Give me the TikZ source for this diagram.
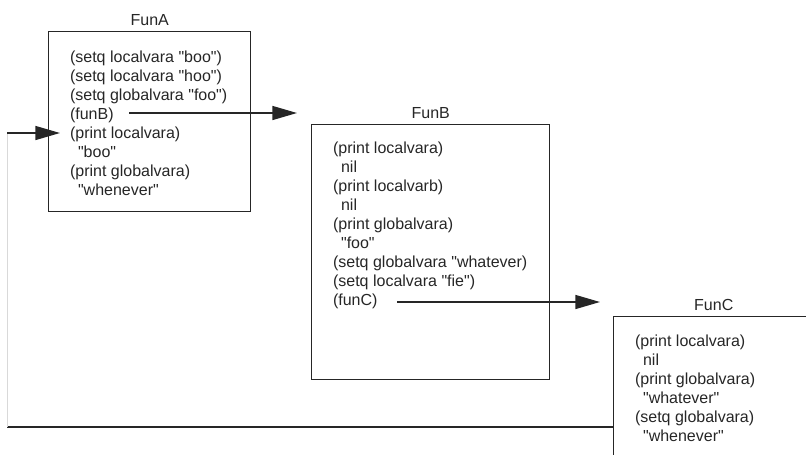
\documentclass[tikz,border=0pt]{standalone}
\usepackage{fontspec}
\setmainfont{Liberation Sans}[Ligatures=TeXOff]
\usetikzlibrary{arrows.meta,positioning}

\begin{document}
\begin{tikzpicture}[x=0.75pt,y=-0.75pt,black!85,line width=1.1pt,
  font=\fontsize{12}{14.25}\selectfont,
  fun/.style={draw,rectangle,anchor=north west,inner sep=0pt,label distance=6.3pt},
  code/.style={align=left,inner sep=0pt},
  call/.style={-{Triangle[length=18.5pt,width=10.5pt]}}]
 \clip (0,0) rectangle (806,454);
 \node[fun,minimum width=151.5pt,minimum height=135pt,label=above:FunA] (funa) at (48,31) {};
 \node[fun,minimum width=178.5pt,minimum height=191.25pt,label=above:FunB] (funb) at (311,124) {};
 \node[fun,minimum width=150pt,minimum height=150pt,label=above:FunC] (func) at (613,316) {};
 \node[code,below right=14.6pt and 16pt of funa.north west] (codea) {(setq localvara "boo")\\
  (setq localvara "hoo")\\
  (setq globalvara "foo")\\
  (funB)\\
  (print localvara)\\
  \hspace{6pt}"boo"\\
  (print globalvara)\\
  \hspace{6pt}"whenever"};
 \node[code,below right=13.1pt and 16pt of funb.north west] (codeb) {(print localvara)\\
  \hspace{6pt}nil\\
  (print localvarb)\\
  \hspace{6pt}nil\\
  (print globalvara)\\
  \hspace{6pt}"foo"\\
  (setq globalvara "whatever)\\
  (setq localvara "fie")\\
  (funC)};
 \node[code,below right=13.9pt and 16pt of func.north west] (codec) {(print localvara)\\
  \hspace{6pt}nil\\
  (print globalvara)\\
  \hspace{6pt}"whatever"\\
  (setq globalvara)\\
  \hspace{6pt}"whenever"};
 \coordinate (callb) at (129,113);
 \coordinate (inb) at (297,113);
 \coordinate (callc) at (397,302);
 \coordinate (inc) at (600,302);
 \coordinate (retlow) at (7,427);
 \coordinate (retup) at (7,133);
 \coordinate (ina) at (60,133);
 \draw[call] (callb) -- (inb);
 \draw[call] (callc) -- (inc);
 \draw (func.north west |- retlow) -- (retlow);
 \draw[gray!30,line width=0.75pt] (retlow) -- (retup);
 \draw[call] (retup) -- (ina);
\end{tikzpicture}
\end{document}
